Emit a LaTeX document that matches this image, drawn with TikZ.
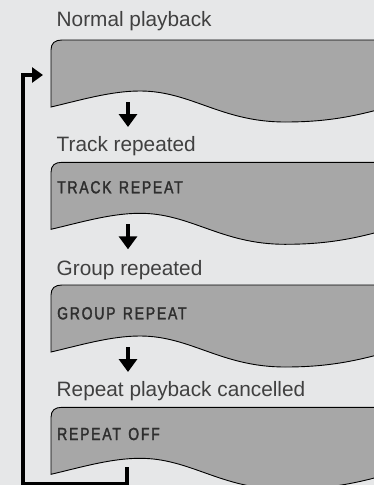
\documentclass[tikz,border=0pt]{standalone}
\usepackage{fontspec}
\setmainfont{Liberation Sans}
\newfontfamily\lcdfont[FakeStretch=0.8,LetterSpace=10,FakeBold=1.8,WordSpace=1.3]{Liberation Sans}
\usetikzlibrary{arrows.meta}
\definecolor{bg}{HTML}{E6E7E8}
\definecolor{panel}{HTML}{A7A7A7}
\definecolor{txt}{HTML}{404040}
\definecolor{lcdtxt}{HTML}{2E2E2E}
\tikzset{
  panel/.pic={
    \filldraw[fill=panel,draw=black,line width=0.9pt]
      (0,10) .. controls (0,3) and (4,0) .. (11,0) -- (340,0) -- (340,66)
      .. controls (300,78) and (270,82) .. (234,82)
      .. controls (170,82) and (140,51) .. (89,51)
      .. controls (60,51) and (30,60) .. (0,67) -- cycle;
    \coordinate (-arr) at (77,62);
    \coordinate (-tip) at (77,87);
    \coordinate (-out) at (76,60);
    \coordinate (-in) at (-8,35);
  },
  title/.style={anchor=base west,inner sep=0pt,text=txt,font=\fontsize{20.8}{24}\selectfont},
  lcd/.style={anchor=base west,inner sep=0pt,text=lcdtxt,font=\lcdfont\fontsize{17.5}{20}\selectfont},
  downarrow/.style={line width=4pt,-{Triangle[length=13pt,width=18pt]}},
  loopline/.style={line width=3.5pt,-{Triangle[length=11pt,width=15pt]}},
}
\begin{document}
\begin{tikzpicture}[x=1pt,y=-1pt]
\fill[bg] (0,0) rectangle (374,485);
\useasboundingbox (0,0) rectangle (374,485);
\clip (0,0) rectangle (374,485);

\pic (p1) at (51,40) {panel};
\pic (p2) at (51,162.3) {panel};
\pic (p3) at (51,285) {panel};
\pic (p4) at (51,407.3) {panel};

\node[title] (t1) at (56.5,26.7) {Normal playback};
\node[title] (t2) at (56.5,151.7) {Track repeated};
\node[title] (t3) at (56.5,275) {Group repeated};
\node[title] (t4) at (56.5,396.7) {Repeat playback cancelled};

\node[lcd] (d2) at (57,193.3) {TRACK REPEAT};
\node[lcd] (d3) at (57,319.3) {GROUP REPEAT};
\node[lcd] (d4) at (57,440) {REPEAT OFF};

\draw[downarrow] (p1-arr) -- (p1-tip);
\draw[downarrow] (p2-arr) -- (p2-tip);
\draw[downarrow] (p3-arr) -- (p3-tip);

\coordinate (c1) at (23,484);
\draw[loopline] (p4-out) |- (c1) |- (p1-in);
\end{tikzpicture}
\end{document}
